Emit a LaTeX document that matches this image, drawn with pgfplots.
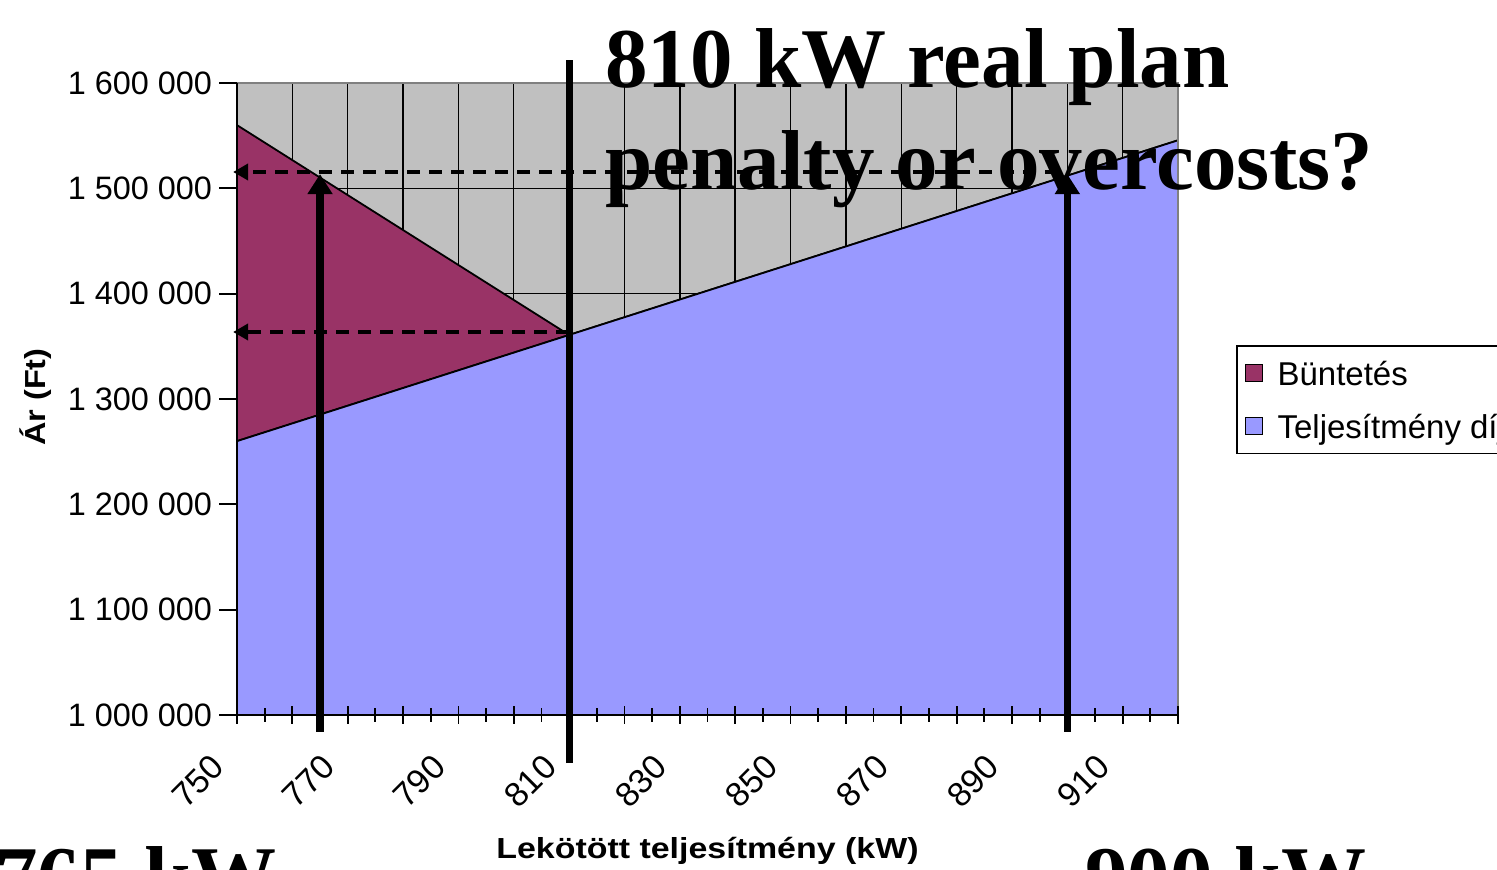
\documentclass[border=0pt]{standalone}
\usepackage{pgfplots}
\pgfplotsset{compat=1.18}
\usepackage{pgfplotstable}
\usepackage{graphicx}
\usepackage{fontspec}
\setmainfont{Liberation Sans}
\newfontfamily\timesfont{Liberation Serif}
\usetikzlibrary{arrows.meta}
\definecolor{penaltycol}{RGB}{153,51,102}
\definecolor{feecol}{RGB}{153,153,255}
\definecolor{plotbg}{RGB}{192,192,192}
\definecolor{bordergray}{RGB}{128,128,128}

\pgfplotstableread{
kw fee penalty
750 1260000 300000
755 1268400 275000
760 1276800 250000
765 1285200 225000
770 1293600 200000
775 1302000 175000
780 1310400 150000
785 1318800 125000
790 1327200 100000
795 1335600 75000
800 1344000 50000
805 1352400 25000
810 1360800 0
815 1369200 0
820 1377600 0
825 1386000 0
830 1394400 0
835 1402800 0
840 1411200 0
845 1419600 0
850 1428000 0
855 1436400 0
860 1444800 0
865 1453200 0
870 1461600 0
875 1470000 0
880 1478400 0
885 1486800 0
890 1495200 0
895 1503600 0
900 1512000 0
905 1520400 0
910 1528800 0
915 1537200 0
920 1545600 0
}\datatable

\begin{document}
\begin{tikzpicture}
\begin{axis}[
  at={(118.5pt,77.5pt)}, anchor=south west,
  scale only axis, width=470.5pt, height=316pt,
  xmin=750, xmax=920, ymin=1000000, ymax=1600000,
  axis x line*=bottom, axis y line*=left,
  axis line style={black, line width=0.9pt},
  set layers, axis on top,
  axis background/.style={fill=plotbg},
  xtick={750,760,...,920},
  xticklabels={750,,770,,790,,810,,830,,850,,870,,890,,910,},
  minor xtick={755,765,...,915},
  ytick={1000000,1100000,1200000,1300000,1400000,1500000,1600000},
  yticklabels={1 000 000,1 100 000,1 200 000,1 300 000,1 400 000,1 500 000,1 600 000},
  scaled y ticks=false,
  xmajorgrids, ymajorgrids,
  major grid style={black, line width=0.7pt, /pgfplots/on layer=axis background},
  tick style={black, line width=0.9pt},
  major tick length=9pt, minor tick length=7pt,
  xtick align=center, ytick align=outside,
  yticklabel style={font=\fontsize{16.2pt}{19pt}\selectfont},
  xticklabel style={font=\fontsize{17pt}{20pt}\selectfont, xshift=-7pt, yshift=-16pt, rotate=45, anchor=east},
  xlabel={\scalebox{1.17}[1]{Lekötött teljesítmény (kW)}},
  xlabel style={at={(axis description cs:0.5,-0.215)}, anchor=center, font=\bfseries\fontsize{14.5pt}{17pt}\selectfont},
  ylabel={\scalebox{1.12}[1]{Ár (Ft)}},
  ylabel style={at={(axis description cs:-0.2136,0.503)}, anchor=center, font=\bfseries\fontsize{14.5pt}{17pt}\selectfont},
  stack plots=y,
  reverse legend,
  legend image code/.code={\draw[#1, line width=0.7pt] (1pt,-4.25pt) rectangle (9.5pt,4.25pt); \path (0pt,0pt) (14pt,0pt);},
  legend style={at={(axis description cs:1.0616,0.5854)}, anchor=north west,
    draw=black, line width=0.8pt, font=\fontsize{16.5pt}{19pt}\selectfont,
    inner xsep=3pt, inner ysep=5pt, row sep=9.5pt,
    nodes={inner sep=2.5pt, text depth=0pt}},
  legend cell align=left,
]
\addplot[draw=black, line width=0.9pt, fill=feecol] table[x=kw,y=fee]{\datatable} \closedcycle;
\addlegendentry{Teljesítmény díj}
\addplot[draw=black, line width=0.9pt, fill=penaltycol] table[x=kw,y=penalty]{\datatable} \closedcycle;
\addlegendentry{Büntetés}
\coordinate (NW) at (rel axis cs:0,1);
\coordinate (NE) at (rel axis cs:1,1);
\coordinate (SE) at (rel axis cs:1,0);
\coordinate (A765b) at (axis cs:765,983860);
\coordinate (A765t) at (axis cs:765,1513500);
\coordinate (A900b) at (axis cs:900,983860);
\coordinate (A900t) at (axis cs:900,1513500);
\coordinate (L810b) at (axis cs:810,954400);
\coordinate (L810t) at (axis cs:810,1621800);
\coordinate (D1s) at (axis cs:898.3,1515500);
\coordinate (D1e) at (axis cs:749.3,1515500);
\coordinate (D2s) at (axis cs:810,1363600);
\coordinate (D2e) at (axis cs:749.3,1363600);
\end{axis}
\draw[bordergray, line width=0.8pt] (NW) -- (NE) -- (SE);
\draw[line width=2pt, dash pattern=on 6.5pt off 4.5pt, -{Triangle[width=8pt,length=7.5pt]}] (D1s) -- (D1e);
\draw[line width=2pt, dash pattern=on 6.5pt off 4.5pt, -{Triangle[width=8pt,length=7.5pt]}] (D2s) -- (D2e);
\draw[line width=3.6pt, -{Triangle[width=12pt,length=10pt]}] (A765b) -- (A765t);
\draw[line width=3.6pt, -{Triangle[width=12pt,length=10pt]}] (A900b) -- (A900t);
\draw[line width=3.6pt] (L810b) -- (L810t);
\node[anchor=base west, inner sep=0pt, font=\timesfont\bfseries\fontsize{42.5pt}{50pt}\selectfont] at (302.5pt,391pt) {810 kW real plan};
\node[anchor=base west, inner sep=0pt, font=\timesfont\bfseries\fontsize{42.5pt}{50pt}\selectfont] at (302.5pt,340pt) {penalty or overcosts?};
\node[anchor=base west, inner sep=0pt, font=\timesfont\bfseries\fontsize{42.5pt}{50pt}\selectfont] at (-2.5pt,-18pt) {765 kW};
\node[anchor=base west, inner sep=0pt, font=\timesfont\bfseries\fontsize{42.5pt}{50pt}\selectfont] at (542.5pt,-18pt) {900 kW};
\pgfresetboundingbox
\path[use as bounding box] (0,0) rectangle (748.5pt,435pt);
\end{tikzpicture}
\end{document}
